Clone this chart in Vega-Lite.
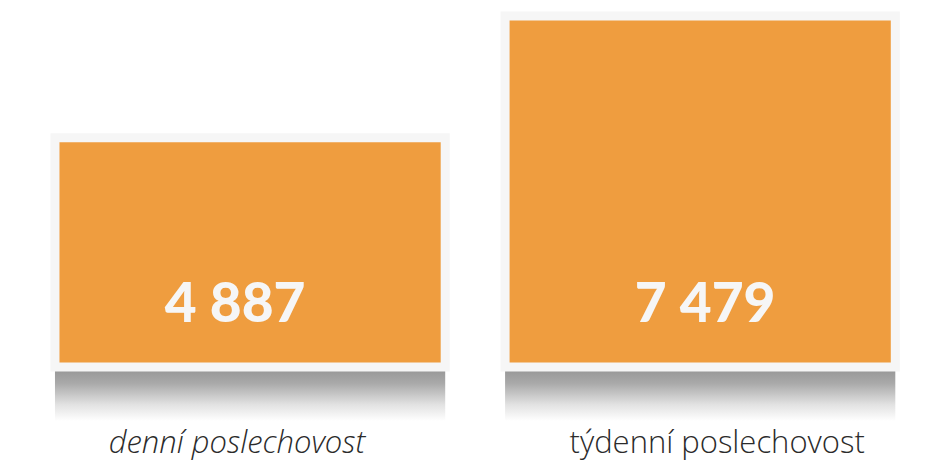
{
  "$schema": "https://vega.github.io/schema/vega-lite/v6.json",
  "width": 929,
  "height": 462,
  "padding": 0,
  "autosize": {"type": "none"},
  "background": "#ffffff",
  "config": {
    "view": {"stroke": null},
    "locale": {"number": {"decimal": ",", "thousands": " ", "grouping": [3], "currency": ["", " Kč"]}}
  },
  "data": {
    "values": [
      {"kategorie": "denní poslechovost", "hodnota": 4887},
      {"kategorie": "týdenní poslechovost", "hodnota": 7479}
    ]
  },
  "encoding": {
    "x": {
      "field": "kategorie",
      "type": "nominal",
      "sort": null,
      "scale": {"paddingInner": 0.133, "paddingOuter": 0.0985, "align": 0.62},
      "axis": null
    }
  },
  "layer": [
    {
      "mark": {
        "type": "bar",
        "color": {
          "gradient": "linear", "x1": 0, "y1": 0, "x2": 0, "y2": 1,
          "stops": [
            {"offset": 0, "color": "#808080"},
            {"offset": 0.3, "color": "#9a9a9a"},
            {"offset": 0.7, "color": "#dddddd"},
            {"offset": 1, "color": "#ffffff"}
          ]
        },
        "opacity": 0.85
      },
      "encoding": {
        "y": {"datum": 0, "type": "quantitative", "scale": {"domain": [-2024, 7820], "nice": false, "zero": false}, "axis": null},
        "y2": {"datum": -1150}
      }
    },
    {
      "mark": {"type": "bar", "color": "#ef9d3f", "stroke": "#f6f6f6", "strokeWidth": 9},
      "encoding": {
        "y": {"field": "hodnota", "type": "quantitative"},
        "y2": {"datum": 0}
      }
    },
    {
      "transform": [{"filter": "datum.kategorie == 'denní poslechovost'"}],
      "mark": {"type": "text", "font": "Lato", "fontSize": 55, "fontWeight": 900, "color": "#f6f6f6", "baseline": "alphabetic", "dy": -45, "dx": -15},
      "encoding": {
        "y": {"datum": 0, "type": "quantitative"},
        "text": {"field": "hodnota", "type": "quantitative", "format": ",d"}
      }
    },
    {
      "transform": [{"filter": "datum.kategorie == 'týdenní poslechovost'"}],
      "mark": {"type": "text", "font": "Lato", "fontSize": 55, "fontWeight": 900, "color": "#f6f6f6", "baseline": "alphabetic", "dy": -45, "dx": 5},
      "encoding": {
        "y": {"datum": 0, "type": "quantitative"},
        "text": {"field": "hodnota", "type": "quantitative", "format": ",d"}
      }
    },
    {
      "transform": [{"filter": "datum.kategorie == 'denní poslechovost'"}],
      "mark": {"type": "text", "font": "Open Sans", "fontSize": 31, "fontWeight": 300, "fontStyle": "italic", "color": "#2b2b2b", "baseline": "alphabetic", "dx": -13},
      "encoding": {
        "y": {"datum": -1832, "type": "quantitative"},
        "text": {"field": "kategorie"}
      }
    },
    {
      "transform": [{"filter": "datum.kategorie == 'týdenní poslechovost'"}],
      "mark": {"type": "text", "font": "Open Sans", "fontSize": 31, "fontWeight": 300, "color": "#2b2b2b", "baseline": "alphabetic", "dx": 17},
      "encoding": {
        "y": {"datum": -1832, "type": "quantitative"},
        "text": {"field": "kategorie"}
      }
    }
  ]
}
